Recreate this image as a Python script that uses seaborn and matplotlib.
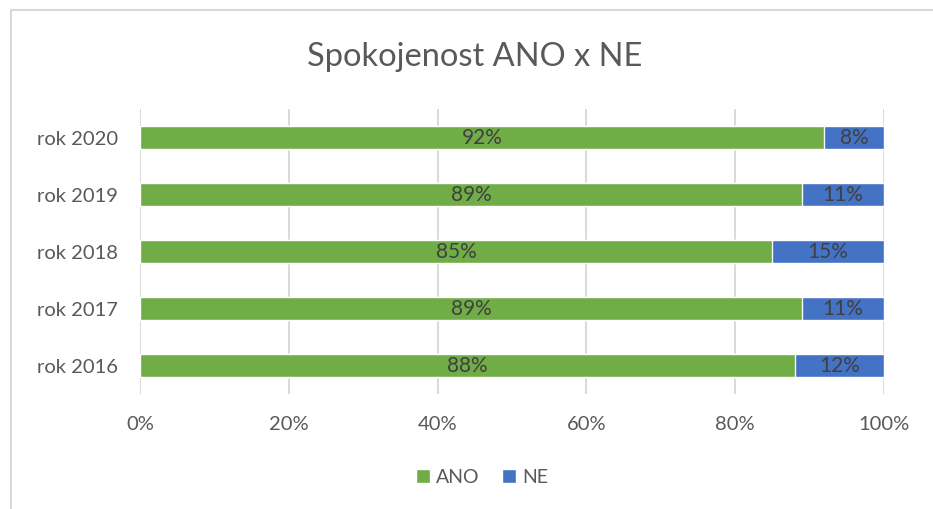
import matplotlib
matplotlib.use("Agg")
import matplotlib.pyplot as plt
import seaborn as sns
import pandas as pd
from matplotlib.patches import Patch
from matplotlib.lines import Line2D

# data
years = ["rok 2020", "rok 2019", "rok 2018", "rok 2017", "rok 2016"]
ano = [92, 89, 85, 89, 88]
ne = [8, 11, 15, 11, 12]

GREEN = "#70AD47"
BLUE = "#4472C4"
TEXT = "#595959"

df = pd.DataFrame({"year": years, "ANO": ano, "NE": ne})
df["total"] = df["ANO"] + df["NE"]

sns.set_theme(style="white")
plt.rcParams["font.family"] = ["Lato", "DejaVu Sans"]

fig = plt.figure(figsize=(9.33, 5.10), dpi=100)
ax = fig.add_axes([140 / 933, 1 - 395 / 510, 744 / 933, 285 / 510])

# NE drawn as full bar underneath, ANO on top
sns.barplot(data=df, x="total", y="year", order=years, color=BLUE,
            width=0.4, saturation=1, ax=ax, orient="h")
sns.barplot(data=df, x="ANO", y="year", order=years, color=GREEN,
            width=0.4, saturation=1, ax=ax, orient="h")

ne_bars = ax.containers[0]
ano_bars = ax.containers[1]
for bar, v in zip(ano_bars, ano):
    ax.text(bar.get_x() + bar.get_width() / 2, bar.get_y() + bar.get_height() / 2,
            f"{v}%", ha="center", va="center", fontsize=15, color="#404040")
for bar, a, v in zip(ne_bars, ano, ne):
    ax.text(a + v / 2, bar.get_y() + bar.get_height() / 2,
            f"{v}%", ha="center", va="center", fontsize=15, color="#404040")

ax.set_xlim(0, 100)
ax.set_ylim(4.5, -0.5)
ax.set_xticks(range(0, 101, 20))
ax.set_xticklabels([f"{t}%" for t in range(0, 101, 20)])
ax.xaxis.grid(True, color="#D9D9D9", linewidth=1.4)
ax.set_axisbelow(True)
for s in ax.spines.values():
    s.set_visible(False)
ax.tick_params(axis="both", length=0, labelsize=14.5, colors=TEXT)
ax.tick_params(axis="x", pad=15)
ax.tick_params(axis="y", pad=16)
ax.set_xlabel("")
ax.set_ylabel("")

fig.text(475 / 933, 1 - 57 / 510, "Spokojenost ANO x NE",
         ha="center", va="center", fontsize=23.5, color=TEXT)

handles = [Patch(facecolor=GREEN, label="ANO"), Patch(facecolor=BLUE, label="NE")]
fig.legend(handles=handles, loc="center", bbox_to_anchor=(482 / 933, 1 - 478 / 510),
           ncol=2, frameon=False, fontsize=14, handlelength=0.7, handleheight=0.7,
           handletextpad=0.3, columnspacing=1.2, labelcolor=TEXT)

# chart frame (top and left edges visible)
fig.add_artist(Line2D([11 / 933, 1], [1 - 11 / 510, 1 - 11 / 510],
                      transform=fig.transFigure, color="#D9D9D9", linewidth=1.5))
fig.add_artist(Line2D([11 / 933, 11 / 933], [0, 1 - 11 / 510],
                      transform=fig.transFigure, color="#D9D9D9", linewidth=1.5))

fig.savefig("out.png", dpi=100)
